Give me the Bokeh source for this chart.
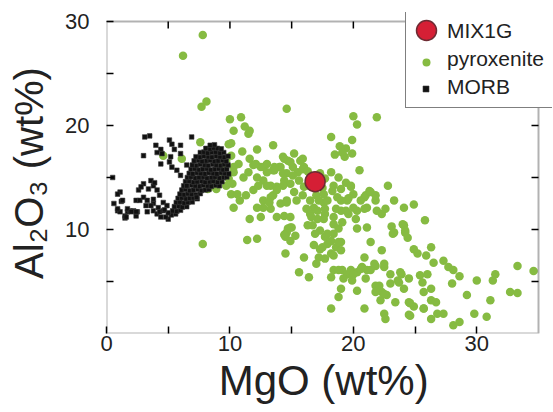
from bokeh.plotting import figure
from bokeh.models import FixedTicker, Legend, LegendItem, Range1d, BoxAnnotation
from bokeh.embed import file_html
from bokeh.resources import INLINE

# ---------------- data ----------------
mix_mgo = [16.9]
mix_al = [14.6]

pyx_mgo = [
    7.8, 6.2, 7.7, 8.1, 14.6, 10.0, 10.9, 10.3, 11.2, 11.6, 11.5, 7.6, 10.1, 11.0, 12.2, 13.5,
    14.3, 14.7, 15.9, 15.1, 14.0, 11.6, 12.7, 13.5, 11.9, 4.6, 6.1, 20.0, 20.3, 21.9, 18.2, 19.9,
    18.9, 19.4, 19.1, 19.9, 18.5, 19.3, 20.5, 18.2, 18.8, 19.4, 17.7, 18.4, 14.4, 14.9, 15.2, 15.7,
    16.0, 15.5, 14.6, 14.1, 13.6, 13.0, 12.5, 12.1, 12.2, 12.7, 13.3, 13.8, 14.4, 14.9, 15.6, 16.0,
    16.4, 15.2, 14.6, 14.1, 13.3, 12.7, 12.2, 13.3, 13.8, 12.5, 12.2, 14.9, 8.9, 9.7, 10.1, 10.3,
    10.8, 11.3, 11.9, 12.3, 12.7, 13.2, 13.5, 13.0, 13.8, 14.3, 14.6, 15.4, 15.9, 16.2, 16.5, 17.0,
    17.6, 10.1, 10.7, 10.3, 9.9, 11.1, 11.5, 13.0, 13.6, 14.3, 15.1, 15.9, 16.5, 9.3, 9.5, 9.7,
    9.9, 10.3, 10.2, 10.6, 8.2, 8.4, 8.5, 8.9, 17.3, 16.3, 17.5, 17.9, 18.7, 19.5, 20.0, 20.9,
    21.3, 19.8, 19.0, 18.3, 17.6, 17.2, 16.5, 16.8, 17.1, 17.7, 18.4, 19.0, 19.6, 20.3, 21.1, 21.8,
    21.9, 22.3, 22.6, 14.4, 14.9, 22.8, 23.3, 24.1, 24.9, 25.8, 23.1, 23.3, 24.1, 24.2, 24.4, 26.3,
    25.9, 24.9, 25.2, 26.5, 27.3, 27.7, 28.1, 28.6, 28.0, 30.0, 31.3, 31.5, 33.3, 34.6, 32.7, 33.3,
    31.1, 29.2, 29.8, 30.8, 28.1, 28.6, 26.8, 27.3, 26.3, 24.9, 25.7, 26.3, 26.7, 23.4, 24.6, 24.5,
    22.5, 22.6, 20.9, 18.2, 20.3, 19.0, 18.8, 21.8, 22.3, 22.7, 23.0, 23.6, 23.9, 23.0, 22.5, 21.8,
    21.4, 18.2, 18.4, 19.1, 19.5, 19.8, 20.3, 20.7, 21.1, 21.0, 19.9, 15.6, 16.4, 14.5, 16.0, 17.0,
    17.2, 20.9, 21.4, 22.3, 17.3, 18.2, 18.6, 17.9, 19.0, 17.7, 18.4, 18.8, 17.3, 16.8, 16.9, 16.7,
    17.1, 16.5, 14.5, 14.9, 15.3, 14.6, 15.0, 7.8, 11.4, 11.6, 14.7, 14.4, 16.3, 16.6, 17.6, 23.2,
    24.0, 24.2, 19.8, 19.6, 19.0, 18.6, 19.4, 20.0, 20.6, 21.0, 21.4, 21.8, 20.9, 17.7, 18.4, 19.1,
    20.2, 17.9, 18.2, 18.8, 19.0, 18.4, 17.7, 17.5, 20.3, 21.1, 21.7, 22.5, 18.8, 20.0, 20.6, 19.2,
    22.1, 22.5, 21.8, 22.2, 23.8, 23.7, 24.1, 24.5, 24.5, 25.4, 26.0, 25.6, 26.3, 25.7, 24.6, 25.7,
]
pyx_al = [
    28.7, 26.7, 21.8, 22.3, 21.6, 20.6, 20.8, 19.5, 19.9, 19.5, 19.2, 18.4, 18.3, 17.5, 17.7, 18.1,
    17.0, 16.6, 16.8, 16.0, 16.0, 16.8, 16.0, 15.7, 16.2, 17.1, 16.8, 20.9, 20.1, 20.8, 18.9, 18.6,
    18.0, 17.8, 17.4, 17.3, 17.2, 17.0, 15.7, 15.5, 15.0, 14.5, 14.9, 14.2, 16.8, 16.5, 17.3, 16.6,
    16.0, 15.5, 15.4, 16.0, 15.7, 16.3, 16.0, 16.3, 15.0, 14.7, 14.2, 14.1, 14.7, 14.4, 14.7, 14.1,
    14.2, 13.6, 12.8, 12.5, 13.1, 12.8, 12.1, 12.0, 11.2, 11.2, 9.1, 10.2, 14.5, 14.2, 13.4, 12.1,
    12.8, 13.3, 13.8, 14.2, 12.1, 12.6, 13.3, 14.2, 13.8, 14.2, 12.6, 12.8, 13.3, 12.0, 14.2, 13.3,
    12.6, 17.1, 16.3, 15.5, 14.9, 15.0, 15.5, 15.5, 16.0, 15.4, 15.2, 15.8, 15.0, 16.0, 15.2, 16.6,
    18.2, 16.0, 14.4, 13.4, 13.9, 14.1, 14.5, 13.9, 15.4, 15.6, 14.0, 12.8, 13.1, 12.8, 13.4, 13.1,
    13.7, 14.2, 13.9, 13.7, 13.4, 12.8, 12.8, 12.1, 11.8, 11.5, 11.2, 11.8, 11.5, 11.8, 12.1, 12.8,
    11.8, 11.5, 12.0, 11.3, 11.2, 14.2, 12.8, 12.1, 12.4, 10.9, 10.3, 9.7, 10.4, 9.7, 9.2, 8.3,
    7.5, 8.1, 7.7, 6.8, 7.0, 6.4, 6.1, 5.5, 4.8, 5.1, 5.1, 5.7, 6.5, 6.0, 4.0, 3.9,
    3.2, 3.7, 1.9, 1.6, 0.8, 1.1, 1.9, 1.9, 1.4, 2.6, 2.4, 3.2, 3.0, 3.0, 2.9, 1.8,
    1.9, 1.4, 2.4, 2.4, 4.1, 4.3, 3.5, 4.6, 4.0, 3.7, 4.8, 5.1, 5.7, 5.7, 6.4, 6.5,
    6.1, 5.4, 6.1, 6.1, 5.7, 6.1, 5.9, 6.4, 6.1, 5.3, 5.1, 5.9, 5.4, 7.7, 7.3, 6.7,
    7.3, 7.3, 8.8, 8.0, 8.1, 7.7, 8.3, 8.6, 8.8, 9.3, 9.6, 10.1, 9.9, 8.5, 9.6, 10.4,
    11.0, 11.5, 9.3, 8.9, 9.4, 9.7, 10.2, 8.6, 9.0, 11.0, 10.1, 9.5, 10.4, 11.2, 11.0, 9.6,
    10.5, 9.9, 14.1, 13.0, 12.8, 12.0, 11.8, 12.1, 12.8, 13.3, 13.6, 13.3, 12.0, 12.0, 10.5, 10.7,
    11.0, 9.6, 8.9, 8.8, 8.0, 7.5, 7.2, 8.3, 10.1, 10.2, 6.7, 6.7, 6.1, 5.7, 6.2, 5.3,
    4.6, 3.8, 4.0, 3.2, 5.9, 4.9, 4.3, 5.3, 3.0, 5.6, 5.7, 4.9, 4.3, 4.0, 1.7, 2.4,
]

morb_mgo = [
    # dense cloud, row by row
    5.25, 5.6,
    5.35, 5.7, 6.0,
    5.5, 5.85, 6.15, 6.5,
    5.65, 5.95, 6.3, 6.6, 6.95,
    5.8, 6.1, 6.45, 6.75, 7.05, 7.35,
    5.95, 6.3, 6.6, 6.9, 7.25, 7.6,
    6.1, 6.4, 6.75, 7.05, 7.4, 7.7, 8.0, 8.3,
    6.25, 6.55, 6.9, 7.2, 7.55, 7.85, 8.2, 8.5, 8.85, 9.15,
    6.4, 6.7, 7.05, 7.35, 7.7, 8.0, 8.35, 8.65, 9.0, 9.35,
    6.55, 6.85, 7.2, 7.5, 7.85, 8.15, 8.5, 8.8, 9.15, 9.5, 9.75,
    6.7, 7.0, 7.35, 7.65, 8.0, 8.3, 8.65, 8.95, 9.3, 9.6, 9.9,
    6.85, 7.15, 7.5, 7.8, 8.15, 8.45, 8.8, 9.1, 9.45, 9.75,
    6.95, 7.3, 7.6, 7.95, 8.25, 8.6, 8.9, 9.25, 9.55, 9.85,
    7.1, 7.45, 7.75, 8.1, 8.4, 8.75, 9.05, 9.4, 9.7,
    7.25, 7.6, 7.9, 8.25, 8.55, 8.9, 9.2, 9.55, 9.85,
    7.6, 7.9, 8.2, 8.55, 8.85, 9.2, 9.5,
    8.05, 8.4, 8.7, 9.0, 9.3,
    8.4, 8.75,
    # scattered samples
    3.1, 3.5, 5.1, 6.9, 5.3, 4.0, 4.4, 6.0, 5.5, 6.0, 5.2, 4.5, 3.0, 4.1, 4.4, 5.1,
    5.3, 5.7, 6.0, 6.5, 0.5, 3.0, 3.6, 3.8, 2.6, 2.8, 3.9, 1.1, 0.9, 1.2,
    0.6, 1.3, 2.4, 2.7, 3.0, 3.4, 3.8, 4.1, 4.3, 3.3, 3.8, 4.2, 3.6,
    3.2, 3.8, 3.3, 4.1, 4.3, 4.6, 4.6, 4.9, 4.4, 0.9, 1.1, 1.7, 1.9,
    1.5, 2.4, 1.7, 2.2, 2.5, 1.5, 0.9, 1.6, 2.0, 2.4, 7.3, 6.5, 5.0, 4.8, 5.0, 4.7,
]
morb_al = [
    11.4, 11.5,
    11.8, 11.75, 11.85,
    12.2, 12.25, 12.15, 12.2,
    12.6, 12.65, 12.55, 12.6, 12.65,
    13.0, 13.05, 12.95, 13.0, 13.05, 12.95,
    13.4, 13.35, 13.45, 13.4, 13.35, 13.45,
    13.8, 13.85, 13.75, 13.8, 13.85, 13.75, 13.8, 13.85,
    14.2, 14.15, 14.25, 14.2, 14.15, 14.25, 14.2, 14.15, 14.25, 14.2,
    14.6, 14.65, 14.55, 14.6, 14.65, 14.55, 14.6, 14.65, 14.55, 14.6,
    15.0, 15.05, 14.95, 15.0, 15.05, 14.95, 15.0, 15.05, 14.95, 15.0, 15.05,
    15.4, 15.35, 15.45, 15.4, 15.35, 15.45, 15.4, 15.35, 15.45, 15.4, 15.35,
    15.8, 15.85, 15.75, 15.8, 15.85, 15.75, 15.8, 15.85, 15.75, 15.8,
    16.2, 16.15, 16.25, 16.2, 16.15, 16.25, 16.2, 16.15, 16.25, 16.2,
    16.6, 16.65, 16.55, 16.6, 16.65, 16.55, 16.6, 16.65, 16.55,
    17.0, 16.95, 17.05, 17.0, 16.95, 17.05, 17.0, 16.95, 17.05,
    17.4, 17.45, 17.35, 17.4, 17.45, 17.35, 17.4,
    17.8, 17.75, 17.85, 17.8, 17.75,
    18.1, 18.15,
    18.9, 19.0, 18.6, 18.9, 18.2, 18.1, 17.7, 18.1, 17.7, 17.3, 17.0, 17.3, 17.1, 17.4, 16.3, 16.5,
    16.0, 15.7, 15.2, 16.2, 15.0, 14.4, 14.7, 14.2, 13.8, 14.1, 14.5, 13.6, 13.4, 12.7,
    12.5, 12.8, 12.8, 12.8, 13.1, 13.9, 12.9, 13.8, 13.3, 12.8, 12.5, 12.1, 12.3,
    12.3, 11.8, 11.7, 11.5, 11.7, 11.8, 12.6, 12.3, 11.2, 11.8, 11.7, 11.7, 11.8,
    11.1, 11.3, 12.0, 11.8, 11.7, 11.3, 12.0, 11.2, 11.7, 11.7, 13.1, 14.2, 11.0, 11.2, 11.6, 11.9,
]

x_lim = (0, 35)
y_lim = (0, 30)
x_ticks = [0, 10, 20, 30]
x_minor = [5, 15, 25]
y_ticks = [10, 20, 30]
y_minor = [5, 15, 25]

GREEN = "#86bb42"
RED = "#d51f35"
FONT = "Liberation Sans"
TXT = "#222222"

# ---------------- layout ----------------
W, H = 553, 412
LEFT, RIGHT, TOP, BOTTOM = 106, 1, 12, 79       # borders around the drawing area
BOX_W_PX, BOX_H_PX = 432, 312                     # size of the drawn axes box
frame_w = W - LEFT - RIGHT
frame_h = H - TOP - BOTTOM
x_per_px = (x_lim[1] - x_lim[0]) / BOX_W_PX
y_per_px = (y_lim[1] - y_lim[0]) / BOX_H_PX
x_end = x_lim[0] + frame_w * x_per_px
y_end = y_lim[0] + frame_h * y_per_px

p = figure(width=W, height=H, x_range=Range1d(x_lim[0], x_end), y_range=Range1d(y_lim[0], y_end),
           output_backend="svg", toolbar_location=None,
           min_border_left=LEFT, min_border_right=RIGHT, min_border_top=TOP,
           min_border_bottom=BOTTOM)
p.xgrid.visible = False
p.ygrid.visible = False
p.outline_line_color = None
p.background_fill_color = "white"
p.border_fill_color = "white"

p.xaxis.ticker = FixedTicker(ticks=x_ticks, minor_ticks=x_minor)
p.yaxis.ticker = FixedTicker(ticks=y_ticks, minor_ticks=y_minor)
p.xaxis.axis_label = "MgO (wt%)\u00a0"
p.yaxis.axis_label = "Al\u2082O\u2083 (wt%)"

for ax in (p.xaxis[0], p.yaxis[0]):
    ax.axis_line_color = None
    ax.major_tick_in = 7
    ax.major_tick_out = 0
    ax.minor_tick_in = 7
    ax.minor_tick_out = 0
    ax.major_tick_line_width = 1.5
    ax.minor_tick_line_width = 1.5
    ax.major_label_text_font = FONT
    ax.major_label_text_font_size = "22px"
    ax.major_label_text_color = TXT
    ax.axis_label_text_font = FONT
    ax.axis_label_text_font_style = "normal"
    ax.axis_label_text_color = TXT
p.xaxis.axis_label_text_font_size = "42px"
p.yaxis.axis_label_text_font_size = "40px"
p.xaxis.major_label_standoff = 2
p.xaxis.axis_label_standoff = 3
p.yaxis.major_label_standoff = 17
p.yaxis.axis_label_standoff = 11

# data
r_pyx = p.scatter(pyx_mgo, pyx_al, marker="circle", size=8.5, fill_color=GREEN, line_color=None)
r_morb = p.scatter(morb_mgo, morb_al, marker="square", size=4.6, fill_color="#111111",
                   line_color="#3c3c3c", line_width=0.6)
r_mix = p.scatter(mix_mgo, mix_al, marker="circle", size=20, fill_color=RED,
                  line_color="#6e2b33", line_width=1.5)
proxy = p.scatter(mix_mgo, mix_al, marker="circle", size=1, fill_alpha=0, line_alpha=0)

# ticks on the top and right sides of the box
TICK = 7
top_x = x_ticks[1:] + x_minor
p.segment(x0=top_x, x1=top_x, y0=[y_lim[1]] * len(top_x),
          y1=[y_lim[1] - TICK * y_per_px] * len(top_x), line_color="black", line_width=1.5)
right_y = y_ticks + y_minor
p.segment(x0=[x_lim[1]] * len(right_y), x1=[x_lim[1] - TICK * x_per_px] * len(right_y),
          y0=right_y, y1=right_y, line_color="black", line_width=1.5)

# axes box
p.add_layout(BoxAnnotation(left=x_lim[0], right=x_lim[1], bottom=y_lim[0], top=y_lim[1],
                           fill_alpha=0, line_color="black", line_width=2))

# legend box with texts
leg_box = Legend(items=[LegendItem(label="MIX1G", renderers=[proxy]),
                        LegendItem(label="pyroxenite", renderers=[proxy]),
                        LegendItem(label="MORB", renderers=[proxy])],
                 location=(299, 225), glyph_width=29, glyph_height=28, label_standoff=6,
                 label_width=100, padding=6, spacing=0, margin=0,
                 border_line_color="black", border_line_width=1.5,
                 background_fill_color="white", background_fill_alpha=1,
                 label_text_font=FONT, label_text_font_size="21px", label_text_color=TXT)
p.add_layout(leg_box)

def glyph_legend(name, rend, box, loc):
    return Legend(items=[LegendItem(label=name, renderers=[rend])], location=loc,
                  glyph_width=box, glyph_height=box, padding=0, margin=0, spacing=0,
                  label_standoff=0, label_width=0, label_height=0, label_text_alpha=0,
                  label_text_font_size="1px",
                  border_line_alpha=0, background_fill_alpha=0)

p.add_layout(glyph_legend("MIX1G", r_mix, 50, (294.7, 278)))
p.add_layout(glyph_legend("pyroxenite", r_pyx, 20, (309.7, 261.3)))
p.add_layout(glyph_legend("MORB", r_morb, 15, (311.5, 237.2)))

open("out.html", "w").write(file_html(p, INLINE))
